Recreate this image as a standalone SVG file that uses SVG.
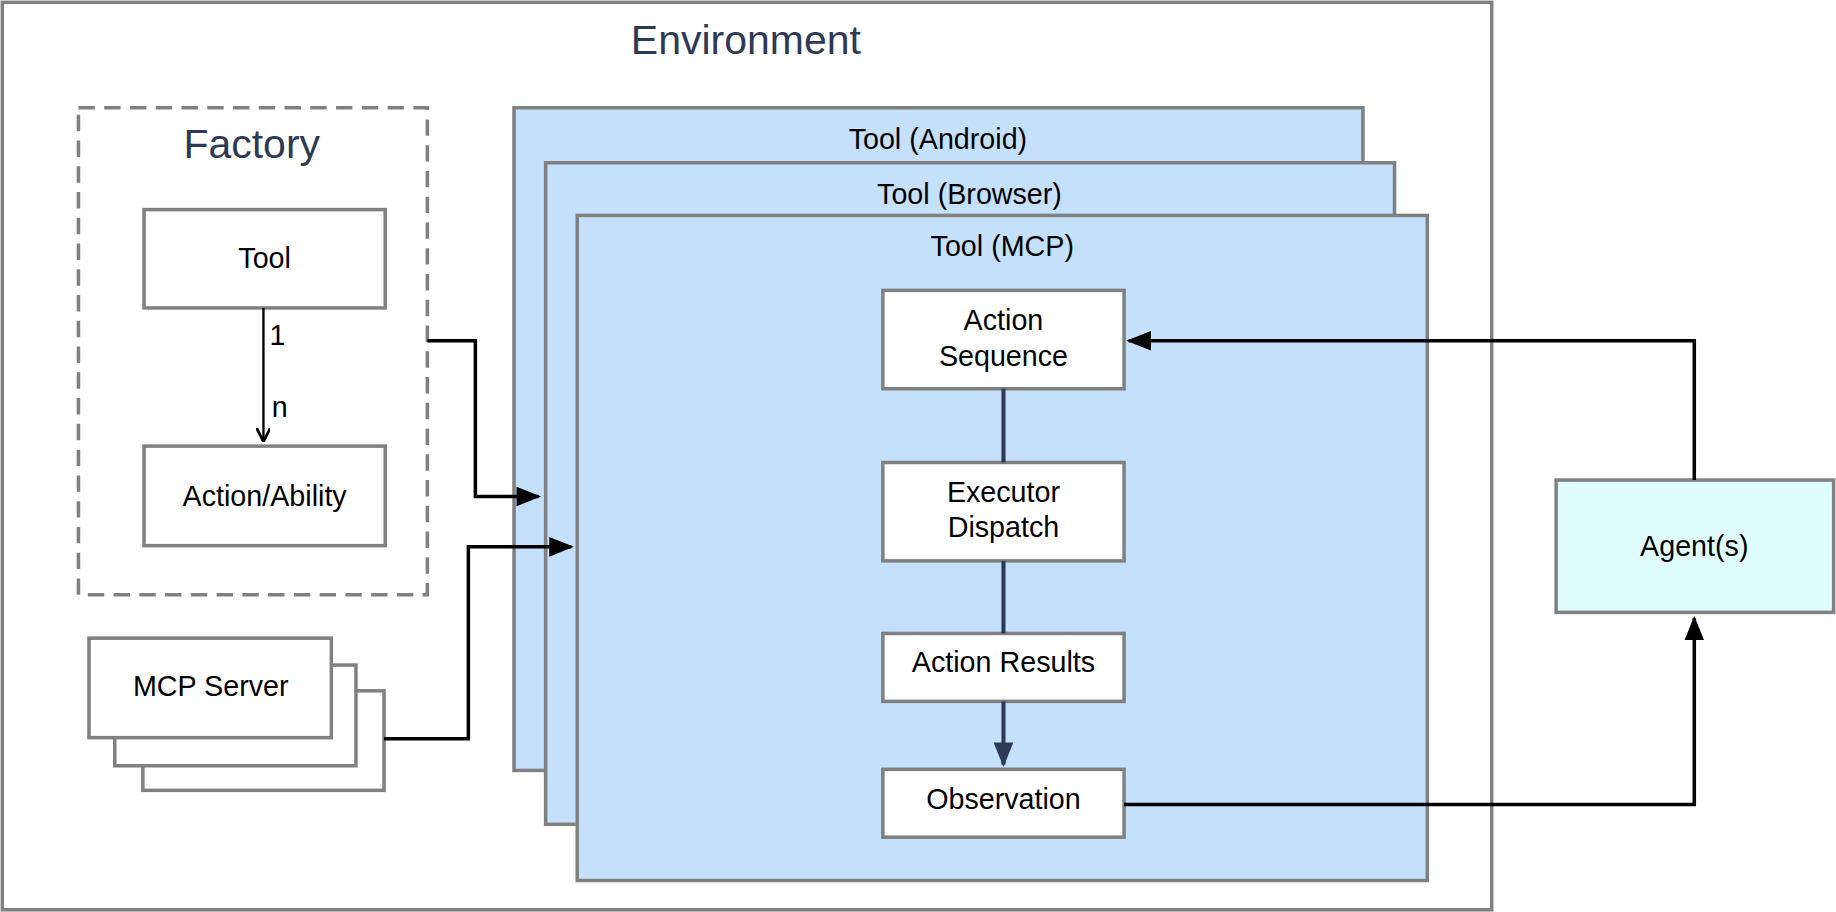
<svg xmlns="http://www.w3.org/2000/svg" width="1836" height="912" viewBox="0 0 1836 912">
<defs>
<style>
.box{fill:#fff;stroke:#808080;stroke-width:3}
.tool{fill:#c5e0fb;stroke:#808080;stroke-width:3}
.t{font-family:"Helvetica","Liberation Sans",Arial,sans-serif;font-size:24.5px;fill:#000;text-anchor:middle}
.h{font-family:"Helvetica","Liberation Sans",Arial,sans-serif;font-size:35px;fill:#2d3a55;text-anchor:middle}
.c{fill:none;stroke:#000;stroke-width:3}
.n{fill:none;stroke:#2d3a55;stroke-width:3.5}
</style>
<marker id="abig" viewBox="0 0 10 10" refX="9" refY="5" markerWidth="7" markerHeight="7" orient="auto"><path d="M0,1L10,5L0,9z" fill="#000"/></marker>
<marker id="anv" viewBox="0 0 10 10" refX="9" refY="5" markerWidth="6" markerHeight="6" orient="auto"><path d="M0,1L10,5L0,9z" fill="#2d3a55"/></marker>
<marker id="thin" viewBox="0 0 10 10" refX="9" refY="5" markerWidth="12" markerHeight="12" markerUnits="userSpaceOnUse" orient="auto"><path d="M0,0L10,5L0,10" fill="none" stroke="#000" stroke-width="2"/></marker>
</defs>
<g transform="scale(1.1709)">
<g id="environment"><rect x="2" y="2" width="1272" height="775" class="box"/><text x="637" y="46" class="h">Environment</text></g>
<g id="factory"><rect x="67" y="92" width="298" height="416" fill="#fff" stroke="#808080" stroke-width="3" stroke-dasharray="14,8"/><text x="215" y="135" class="h">Factory</text></g>
<g id="tool"><rect x="123" y="179" width="206" height="84" class="box"/><text x="226" y="229" class="t">Tool</text></g>
<g id="action-ability"><rect x="123" y="381" width="206" height="85" class="box"/><text x="226" y="432" class="t">Action/Ability</text></g>
<g id="mcp-server">
<rect x="122" y="590" width="206" height="85" class="box"/>
<rect x="98" y="568" width="206" height="86" class="box"/>
<rect x="76" y="545" width="207" height="85" class="box"/>
<text x="180" y="594" class="t">MCP Server</text></g>
<g id="tool-android"><rect x="439" y="92" width="725" height="566" class="tool"/><text x="801" y="127" class="t">Tool (Android)</text></g>
<g id="tool-browser"><rect x="466" y="139" width="725" height="565" class="tool"/><text x="828" y="174" class="t">Tool (Browser)</text></g>
<g id="tool-mcp"><rect x="493" y="184" width="726" height="568" class="tool"/><text x="856" y="219" class="t">Tool (MCP)</text></g>
<g id="action-sequence"><rect x="754" y="248" width="206" height="84" class="box"/><text x="857" y="282" class="t">Action</text><text x="857" y="313" class="t">Sequence</text></g>
<g id="executor-dispatch"><rect x="754" y="395" width="206" height="84" class="box"/><text x="857" y="429" class="t">Executor</text><text x="857" y="459" class="t">Dispatch</text></g>
<g id="action-results"><rect x="754" y="541" width="206" height="58" class="box"/><text x="857" y="574" class="t">Action Results</text></g>
<g id="observation"><rect x="754" y="657" width="206" height="58" class="box"/><text x="857" y="691" class="t">Observation</text></g>
<g id="agents"><rect x="1329" y="410" width="237" height="113" fill="#e0fdfd" stroke="#808080" stroke-width="3"/><text x="1447" y="475" class="t">Agent(s)</text></g>
<g id="connectors">
<path d="M225,263V376" fill="none" stroke="#000" stroke-width="2" marker-end="url(#thin)"/>
<text x="237" y="295" class="t">1</text><text x="239" y="356" class="t">n</text>
<path d="M365,291H406V424H460" class="c" marker-end="url(#abig)"/>
<path d="M328,631H400V467H488" class="c" marker-end="url(#abig)"/>
<path d="M857,332V395" class="n"/>
<path d="M857,479V541" class="n"/>
<path d="M857,599V653" class="n" marker-end="url(#anv)"/>
<path d="M1447,410V291H964" class="c" marker-end="url(#abig)"/>
<path d="M960,687H1447V528" class="c" marker-end="url(#abig)"/>
</g>
</g>
</svg>
